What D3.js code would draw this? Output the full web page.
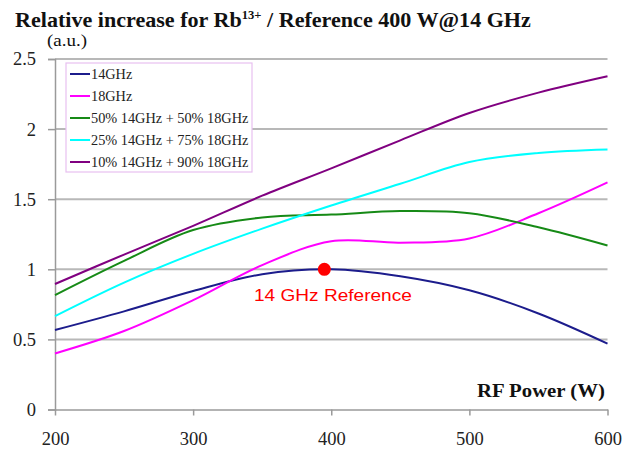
<!DOCTYPE html>
<meta charset="utf-8">
<head>
  <title>Relative increase for Rb13+</title>
</head>
<style>
  body { margin: 0; background: #fff; }
  text { font-family: "Liberation Serif", "Times New Roman", serif; }
</style>
<body>
  <div id="chart"></div>
  <script src="https://d3js.org/d3.v7.min.js"></script>
  <script>

  // data
  var power = [200, 250, 300, 350, 400, 450, 500, 550, 600];
  var ghz14 = [0.567, 0.70, 0.845, 0.965, 1.0, 0.95, 0.85, 0.685, 0.47];
  var ghz18 = [0.40, 0.56, 0.78, 1.03, 1.20, 1.19, 1.22, 1.40, 1.62];
  var mix50 = [0.816, 1.06, 1.28, 1.37, 1.39, 1.415, 1.40, 1.30, 1.17];
  var mix25 = [0.666, 0.905, 1.11, 1.29, 1.455, 1.61, 1.765, 1.83, 1.855];
  var mix10 = [0.895, 1.105, 1.31, 1.525, 1.72, 1.92, 2.115, 2.26, 2.377];
  var seriesNames = ["14GHz", "18GHz", "50% 14GHz + 50% 18GHz", "25% 14GHz + 75% 18GHz", "10% 14GHz + 90% 18GHz"];
  var seriesColors = ["#1c1c8c", "#ff00ff", "#168a16", "#00ffff", "#800080"];
  var xTicks = [200, 300, 400, 500, 600];
  var yTicks = [0, 0.5, 1, 1.5, 2, 2.5];
  var refPoint = {x: 395, y: 1.0};

  var allSeries = [ghz14, ghz18, mix50, mix25, mix10];

  var W = 637, H = 449;
  var margin = {top: 59, right: 29.5, bottom: 39.5, left: 55},
      width = W - margin.left - margin.right,
      height = H - margin.top - margin.bottom;

  var svg = d3.select("#chart").append("svg")
      .attr("width", W)
      .attr("height", H);

  // the source picture is a bit wider than the font: stretch a text to a width
  function stretch(sel, x0, w) {
    var b = sel.node().getBBox();
    var k = w / b.width;
    sel.attr("transform", "translate(" + x0 + ",0) scale(" + k + ",1) translate(" + (-b.x) + ",0)");
  }

  var g = svg.append("g")
      .attr("transform", "translate(" + margin.left + "," + margin.top + ")");

  var x = d3.scaleLinear().domain([200, 600]).range([0, width]);
  var y = d3.scaleLinear().domain([0, 2.5]).range([height, 0]);

  // gridlines
  g.append("g").selectAll("line")
    .data(yTicks.filter(function(d) { return d > 0; }))
    .enter().append("line")
      .attr("x1", 0).attr("x2", width)
      .attr("y1", function(d) { return y(d); })
      .attr("y2", function(d) { return y(d); })
      .attr("stroke", "#b8b8b8")
      .attr("stroke-width", 2);

  // y axis
  var yAxis = g.append("g")
    .call(d3.axisLeft(y).tickValues(yTicks).tickSize(7).tickPadding(12)
      .tickFormat(function(d) { return d; }));
  yAxis.select(".domain").attr("stroke", "#9a9a9a").attr("stroke-width", 1.5);
  yAxis.selectAll(".tick line").attr("stroke", "#9a9a9a").attr("stroke-width", 1.5);
  yAxis.selectAll("text").attr("font-size", 18.5).attr("fill", "#222")
    .style("font-family", "Liberation Serif");

  // x axis
  var xAxis = g.append("g")
    .attr("transform", "translate(0," + height + ")")
    .call(d3.axisBottom(x).tickValues(xTicks).tickSize(6).tickPadding(16).tickSizeOuter(0));
  xAxis.select(".domain").attr("stroke", "#9a9a9a").attr("stroke-width", 1.5);
  xAxis.selectAll(".tick line").attr("stroke", "#9a9a9a").attr("stroke-width", 1.5);
  xAxis.selectAll("text").attr("font-size", 18.5).attr("fill", "#222")
    .style("font-family", "Liberation Serif");

  // lines
  var line = d3.line()
    .x(function(d, i) { return x(power[i]); })
    .y(function(d) { return y(d); })
    .curve(d3.curveCatmullRom.alpha(0.5));

  g.append("g").selectAll("path")
    .data(allSeries)
    .enter().append("path")
      .attr("d", line)
      .attr("fill", "none")
      .attr("stroke", function(d, i) { return seriesColors[i]; })
      .attr("stroke-width", 2);

  // reference point
  g.append("circle")
    .attr("cx", x(refPoint.x))
    .attr("cy", y(refPoint.y))
    .attr("r", 6.5)
    .attr("fill", "#ff0000");

  var refLabel = svg.append("text")
    .attr("y", 301)
    .attr("fill", "#ff0000")
    .attr("font-size", 17)
    .style("font-family", "Liberation Sans, Arial, sans-serif")
    .text("14 GHz Reference");
  stretch(refLabel, 254, 158);

  // legend
  var legend = g.append("g").attr("transform", "translate(11,4)");
  legend.append("rect")
    .attr("width", 186).attr("height", 109)
    .attr("fill", "#fff")
    .attr("stroke", "#e8c0f0").attr("stroke-width", 1.2);
  var rows = legend.selectAll(".row")
    .data(seriesNames)
    .enter().append("g")
      .attr("transform", function(d, i) { return "translate(0," + (11 + i * 22) + ")"; });
  rows.append("line")
    .attr("x1", 4).attr("x2", 24)
    .attr("stroke", function(d, i) { return seriesColors[i]; })
    .attr("stroke-width", 2);
  rows.append("text")
    .attr("x", 25).attr("y", 4.5)
    .attr("font-size", 14.3).attr("fill", "#222")
    .text(function(d) { return d; });

  // title and labels
  var title = svg.append("text")
    .attr("y", 27)
    .attr("font-size", 21).attr("font-weight", "bold").attr("fill", "#111");
  title.append("tspan").text("Relative increase for Rb");
  title.append("tspan").attr("font-size", 12).attr("dy", -8).text("13+");
  title.append("tspan").attr("dy", 8).text(" / Reference 400 W@14 GHz");
  stretch(title, 15, 516);

  var unit = svg.append("text")
    .attr("y", 46)
    .attr("font-size", 17).attr("fill", "#111")
    .text("(a.u.)");
  stretch(unit, 47, 40);

  var xTitle = svg.append("text")
    .attr("y", 397)
    .attr("font-size", 19).attr("font-weight", "bold").attr("fill", "#111")
    .text("RF Power (W)");
  stretch(xTitle, 477, 128);

  </script>
</body>
</html>
